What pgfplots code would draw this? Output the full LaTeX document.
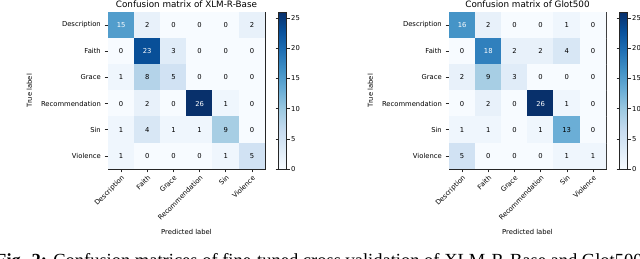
\documentclass[border=0pt]{standalone}
\usepackage{pgfplots}
\pgfplotsset{compat=1.18}
\usepackage{pgfplotstable}
\usepackage{fontspec}
\setmainfont{DejaVu Sans}
\newfontfamily\capfont{Liberation Serif}

\pgfplotstableread{
X Y C
0 0 15
1 0 2
2 0 0
3 0 0
4 0 0
5 0 2
0 1 0
1 1 23
2 1 3
3 1 0
4 1 0
5 1 0
0 2 1
1 2 8
2 2 5
3 2 0
4 2 0
5 2 0
0 3 0
1 3 2
2 3 0
3 3 26
4 3 1
5 3 0
0 4 1
1 4 4
2 4 1
3 4 1
4 4 9
5 4 0
0 5 1
1 5 0
2 5 0
3 5 0
4 5 1
5 5 5
}\xlmr

\pgfplotstableread{
X Y C
0 0 16
1 0 2
2 0 0
3 0 0
4 0 1
5 0 0
0 1 0
1 1 18
2 1 2
3 1 2
4 1 4
5 1 0
0 2 2
1 2 9
2 2 3
3 2 0
4 2 0
5 2 0
0 3 0
1 3 2
2 3 0
3 3 26
4 3 1
5 3 0
0 4 1
1 4 1
2 4 0
3 4 1
4 4 13
5 4 0
0 5 5
1 5 0
2 5 0
3 5 0
4 5 1
5 5 1
}\glot

\newcommand{\tfs}{\fontsize{6.8}{7.8}\selectfont}
\newcommand{\nfs}{\fontsize{6.8}{7.8}\selectfont}
\pgfplotsset{
  colormap={blues}{rgb255=(247,251,255) rgb255=(222,235,247) rgb255=(198,219,239) rgb255=(158,202,225) rgb255=(107,174,214) rgb255=(66,146,198) rgb255=(33,113,181) rgb255=(8,81,156) rgb255=(8,48,107)},
  cm/.style={
    scale only axis, width=157pt, height=157pt,
    xmin=-0.5, xmax=5.5, ymin=-0.5, ymax=5.5, y dir=reverse,
    xtick={0,...,5}, ytick={0,...,5},
    xticklabels={Description,Faith,Grace,Recommendation,Sin,Violence},
    yticklabels={Description,Faith,Grace,Recommendation,Sin,Violence},
    xticklabel style={rotate=45, anchor=north east, font=\tfs, inner sep=1.5pt},
    yticklabel style={font=\tfs, inner sep=3.5pt},
    tick align=outside, xtick pos=bottom, ytick pos=left, major tick length=3.5pt,
    tick style={black!85, line width=0.5pt},
    axis line style={black!85, line width=0.6pt},
    colormap name=blues, point meta min=0, point meta max=26,
    colorbar right,
    colorbar style={at={(parent axis.north east)}, anchor=north west, xshift=5pt,
      width=8pt, ytick={0,5,...,25}, yticklabel style={font=\tfs, inner sep=1.5pt},
      tick align=outside, major tick length=3pt,
      axis line style={black!85, line width=0.5pt},
      tick style={black!85, line width=0.5pt},
      /pgf/number format/assume math mode=true},
    title style={font=\fontsize{8.8}{10}\selectfont, yshift=-5pt},
    xlabel={Predicted label}, ylabel={True label},
    label style={font=\tfs},
    xlabel shift=3pt, ylabel shift=2pt,
    /pgf/number format/assume math mode=true,
  },
  cmtext/.style={only marks, mark=*, mark size=0pt, mark options={draw=none,fill=none},
    point meta=\thisrow{C},
    nodes near coords={\ifdim\pgfplotspointmetatransformed pt>501pt\relax\color{white}\fi\pgfmathprintnumber{\pgfplotspointmeta}},
    nodes near coords align=center,
    every node near coord/.append style={font=\nfs, inner sep=0pt}},
}

\begin{document}
\begin{tikzpicture}
\useasboundingbox (0pt,0pt) rectangle (640pt,259pt);
\clip (0pt,0pt) rectangle (640pt,259pt);
\begin{axis}[cm, at={(108pt,247pt)}, anchor=north west, title={Confusion matrix of XLM-R-Base}]
  \addplot[matrix plot*, mesh/cols=6, point meta=\thisrow{C}] table[x=X, y=Y] {\xlmr};
  \addplot[cmtext] table[x=X, y=Y] {\xlmr};
\end{axis}
\begin{axis}[cm, at={(449pt,247pt)}, anchor=north west, title={Confusion matrix of Glot500}]
  \addplot[matrix plot*, mesh/cols=6, point meta=\thisrow{C}] table[x=X, y=Y] {\glot};
  \addplot[cmtext] table[x=X, y=Y] {\glot};
\end{axis}
\node[anchor=base west, inner sep=0pt, font=\capfont\fontsize{18.5}{20}\selectfont] at (-5pt,-7.2pt)
  {\textbf{Fig. 2:} Confusion matrices of fine-tuned cross validation of XLM-R-Base and Glot500};
\end{tikzpicture}
\end{document}
